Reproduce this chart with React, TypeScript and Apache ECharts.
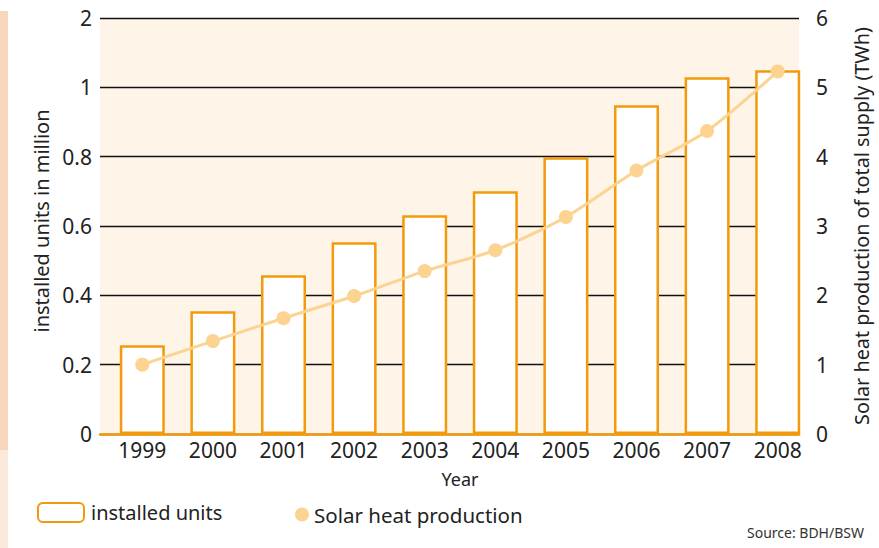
import React, { useEffect, useRef } from "react";
import * as echarts from "echarts";

const years = ["1999", "2000", "2001", "2002", "2003", "2004", "2005", "2006", "2007", "2008"];
const installedUnits = [0.256, 0.354, 0.458, 0.553, 0.631, 0.7, 0.798, 0.948, 1.029, 1.049];
const solarHeat = [1.0, 1.34, 1.67, 1.99, 2.35, 2.65, 3.13, 3.8, 4.37, 5.23];
const leftTickLabels = ["0", "0.2", "0.4", "0.6", "0.8", "1", "2"];
const rightTickLabels = ["0", "1", "2", "3", "4", "5", "6"];

const FONT = "Noto Sans";
const ORANGE = "#f39a0c";
const LINE = "#fcd390";
const TEXT = "#222";

export default function App() {
  const ref = useRef<HTMLDivElement>(null);
  useEffect(() => {
    if (!ref.current) return;
    const chart = echarts.init(ref.current, null, { renderer: "svg" });
    const top = 18;
    const bottom = 548 - 434;
    chart.setOption({
      animation: false,
      backgroundColor: "#fff",
      textStyle: { fontFamily: FONT, color: TEXT },
      graphic: [
        { type: "rect", left: 0, top: 11, shape: { width: 8, height: 439 }, style: { fill: "#f7d8bd" } },
        { type: "rect", left: 0, top: 450, shape: { width: 8, height: 98 }, style: { fill: "#fbeadb" } },
        {
          type: "text",
          right: 15,
          top: 525,
          style: { text: "Source: BDH/BSW", fontFamily: FONT, fontSize: 14, fill: "#333" },
        },
      ],
      grid: [
        { left: 100, right: 74, top, bottom, show: true, backgroundColor: "#fef5e8", borderWidth: 0 },
        { left: 107, right: 66, top, bottom },
      ],
      legend: [
        {
          data: ["installed units"],
          left: 32,
          top: 497,
          itemWidth: 46,
          itemHeight: 19,
          itemGap: 10,
          textStyle: { fontFamily: FONT, fontSize: 20, color: TEXT, padding: [2, 0, 0, 2] },
        },
        {
          data: [{ name: "Solar heat production", icon: "circle" }],
          left: 290,
          top: 499,
          itemWidth: 14,
          itemHeight: 14,
          itemGap: 10,
          textStyle: { fontFamily: FONT, fontSize: 20.5, color: TEXT, padding: [2, 0, 0, 0] },
        },
      ],
      xAxis: [
        {
          type: "category",
          gridIndex: 0,
          data: years,
          axisLabel: { show: false },
          axisTick: { show: false },
          axisLine: { show: true, lineStyle: { color: ORANGE, width: 2.5 } },
        },
        {
          type: "category",
          gridIndex: 1,
          data: years,
          axisTick: { show: false },
          axisLine: { show: false },
          axisLabel: { fontFamily: FONT, fontSize: 21, color: TEXT, margin: 5 },
          name: "Year",
          nameLocation: "middle",
          nameGap: 36,
          nameTextStyle: { fontFamily: FONT, fontSize: 18, color: TEXT },
        },
      ],
      yAxis: [
        {
          type: "value",
          gridIndex: 0,
          min: 0,
          max: 1.2,
          interval: 0.2,
          axisLine: { show: false },
          axisTick: { show: false },
          splitLine: { show: true, lineStyle: { color: "#111", width: 1.3 } },
          axisLabel: {
            fontFamily: FONT,
            fontSize: 21,
            color: TEXT,
            margin: 8,
            formatter: (v: number) => leftTickLabels[Math.round(v / 0.2)] ?? "",
          },
          name: "installed units in million",
          nameLocation: "middle",
          nameGap: 47,
          nameRotate: 90,
          nameTextStyle: { fontFamily: FONT, fontSize: 20, color: TEXT, padding: [0, 0, 0, 10] },
        },
        {
          type: "value",
          gridIndex: 0,
          position: "right",
          min: 0,
          max: 6,
          interval: 1,
          axisLine: { show: false },
          axisTick: { show: false },
          splitLine: { show: false },
          axisLabel: {
            fontFamily: FONT,
            fontSize: 21,
            color: TEXT,
            margin: 17,
            formatter: (v: number) => rightTickLabels[Math.round(v)] ?? "",
          },
          name: "Solar heat production of total supply (TWh)",
          nameLocation: "middle",
          nameGap: 52,
          nameRotate: 90,
          nameTextStyle: { fontFamily: FONT, fontSize: 19.8, color: TEXT },
        },
        { type: "value", gridIndex: 1, min: 0, max: 1.2, show: false, splitLine: { show: false } },
        { type: "value", gridIndex: 1, min: 0, max: 6, show: false, splitLine: { show: false } },
      ],
      series: [
        {
          name: "installed units",
          type: "bar",
          xAxisIndex: 1,
          yAxisIndex: 2,
          data: installedUnits,
          barWidth: 45,
          itemStyle: { color: "#fff", borderColor: ORANGE, borderWidth: 2.5 },
        },
        {
          name: "Solar heat production",
          type: "line",
          xAxisIndex: 1,
          yAxisIndex: 3,
          data: solarHeat,
          smooth: 0.25,
          symbol: "circle",
          symbolSize: 14,
          lineStyle: { color: LINE, width: 3 },
          itemStyle: { color: LINE },
        },
      ],
    });
    return () => chart.dispose();
  }, []);
  return (
    <div
      ref={ref}
      style={{ position: "fixed", left: 0, top: 0, width: 879, height: 548 }}
    />
  );
}
